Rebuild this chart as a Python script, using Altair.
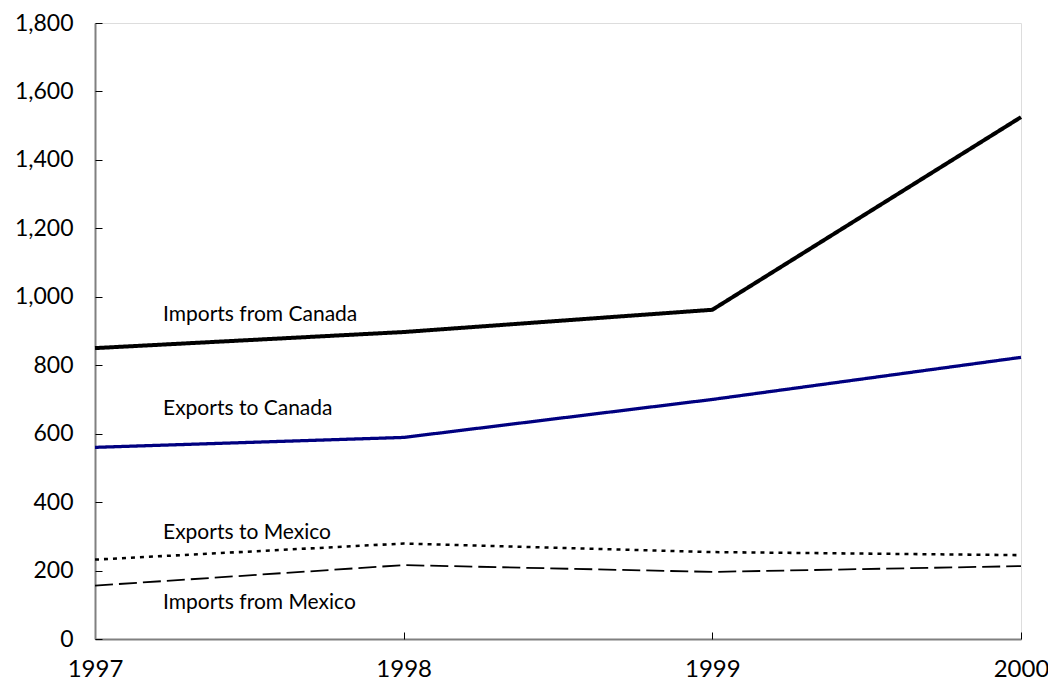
import altair as alt
import pandas as pd

years = [1997, 1998, 1999, 2000]
imports_canada = [850, 897, 962, 1525]
exports_canada = [560, 589, 700, 823]
exports_mexico = [232, 279, 254, 245]
imports_mexico = [156, 216, 196, 213]

series_names = ["Imports from Canada", "Exports to Canada", "Exports to Mexico", "Imports from Mexico"]
series_values = [imports_canada, exports_canada, exports_mexico, imports_mexico]
series_colors = ["#000000", "#000080", "#000000", "#000000"]
series_dash = [[1, 0], [1, 0], [4, 5], [18, 6]]
series_width = [4, 1.8, 3, 2.5]

label_text = ["Imports from Canada", "Exports to Canada", "Exports to Mexico", "Imports from Mexico"]
label_x = [1997, 1997, 1997, 1997]
label_y = [948, 672, 309, 105]

y_ticks = list(range(0, 1801, 200))

rows = []
for name, vals in zip(series_names, series_values):
    for yr, v in zip(years, vals):
        rows.append({"year": yr, "value": v, "series": name})
df = pd.DataFrame(rows)
labels_df = pd.DataFrame({"text": label_text, "year": label_x, "value": label_y})

FONT = "Lato"
W, H = 926, 616

xscale = alt.Scale(domain=[1997, 2000], nice=False, zero=False)
yscale = alt.Scale(domain=[0, 1800], nice=False)

lines = alt.Chart(df).mark_line(clip=False).encode(
    x=alt.X("year:Q", scale=xscale,
            axis=alt.Axis(orient="bottom", values=years, format="d", title=None,
                          ticks=False, tickSize=0, labelPadding=18, labelFontSize=24,
                          labelFont=FONT, labelColor="#000000", grid=False, labelFlush=False,
                          labelOverlap=False,
                          domainColor="#808080", domainWidth=2)),
    y=alt.Y("value:Q", scale=yscale,
            axis=alt.Axis(orient="left", values=y_ticks, format=",.0f", title=None,
                          ticks=False, tickSize=0, labelPadding=22, labelFontSize=23,
                          labelFont=FONT, labelColor="#000000", grid=False, labelFlush=False,
                          labelOverlap=False,
                          domainColor="#808080", domainWidth=2)),
    color=alt.Color("series:N", scale=alt.Scale(domain=series_names, range=series_colors), legend=None),
    strokeDash=alt.StrokeDash("series:N", scale=alt.Scale(domain=series_names, range=series_dash), legend=None),
    strokeWidth=alt.StrokeWidth("series:N", scale=alt.Scale(domain=series_names, range=series_width), legend=None),
)

texts = alt.Chart(labels_df).mark_text(align="left", baseline="middle", dx=68,
                                        font=FONT, fontSize=21, color="#000000").encode(
    x=alt.X("year:Q", scale=xscale, axis=None),
    y=alt.Y("value:Q", scale=yscale, axis=None),
    text="text:N",
)

tick_layer = alt.Chart(df).mark_point(opacity=0).encode(
    x=alt.X("year:Q", scale=xscale,
            axis=alt.Axis(orient="top", offset=-H, values=years, labels=False, domain=False,
                          ticks=True, tickSize=7, tickColor="#000000", tickWidth=1,
                          title=None, grid=False)),
    y=alt.Y("value:Q", scale=yscale,
            axis=alt.Axis(orient="right", offset=-W, values=y_ticks, labels=False, domain=False,
                          ticks=True, tickSize=7, tickColor="#000000", tickWidth=1,
                          title=None, grid=False)),
)

chart = alt.layer(lines, texts, tick_layer).resolve_axis(
    x="independent", y="independent"
).properties(
    width=W, height=H,
    autosize=alt.AutoSizeParams(type="none"),
    padding={"left": 87, "top": 15, "right": 27, "bottom": 45},
).configure_view(stroke=None).configure(background="#ffffff")

chart.save("out.html", embed_options={"renderer": "svg", "actions": False})
